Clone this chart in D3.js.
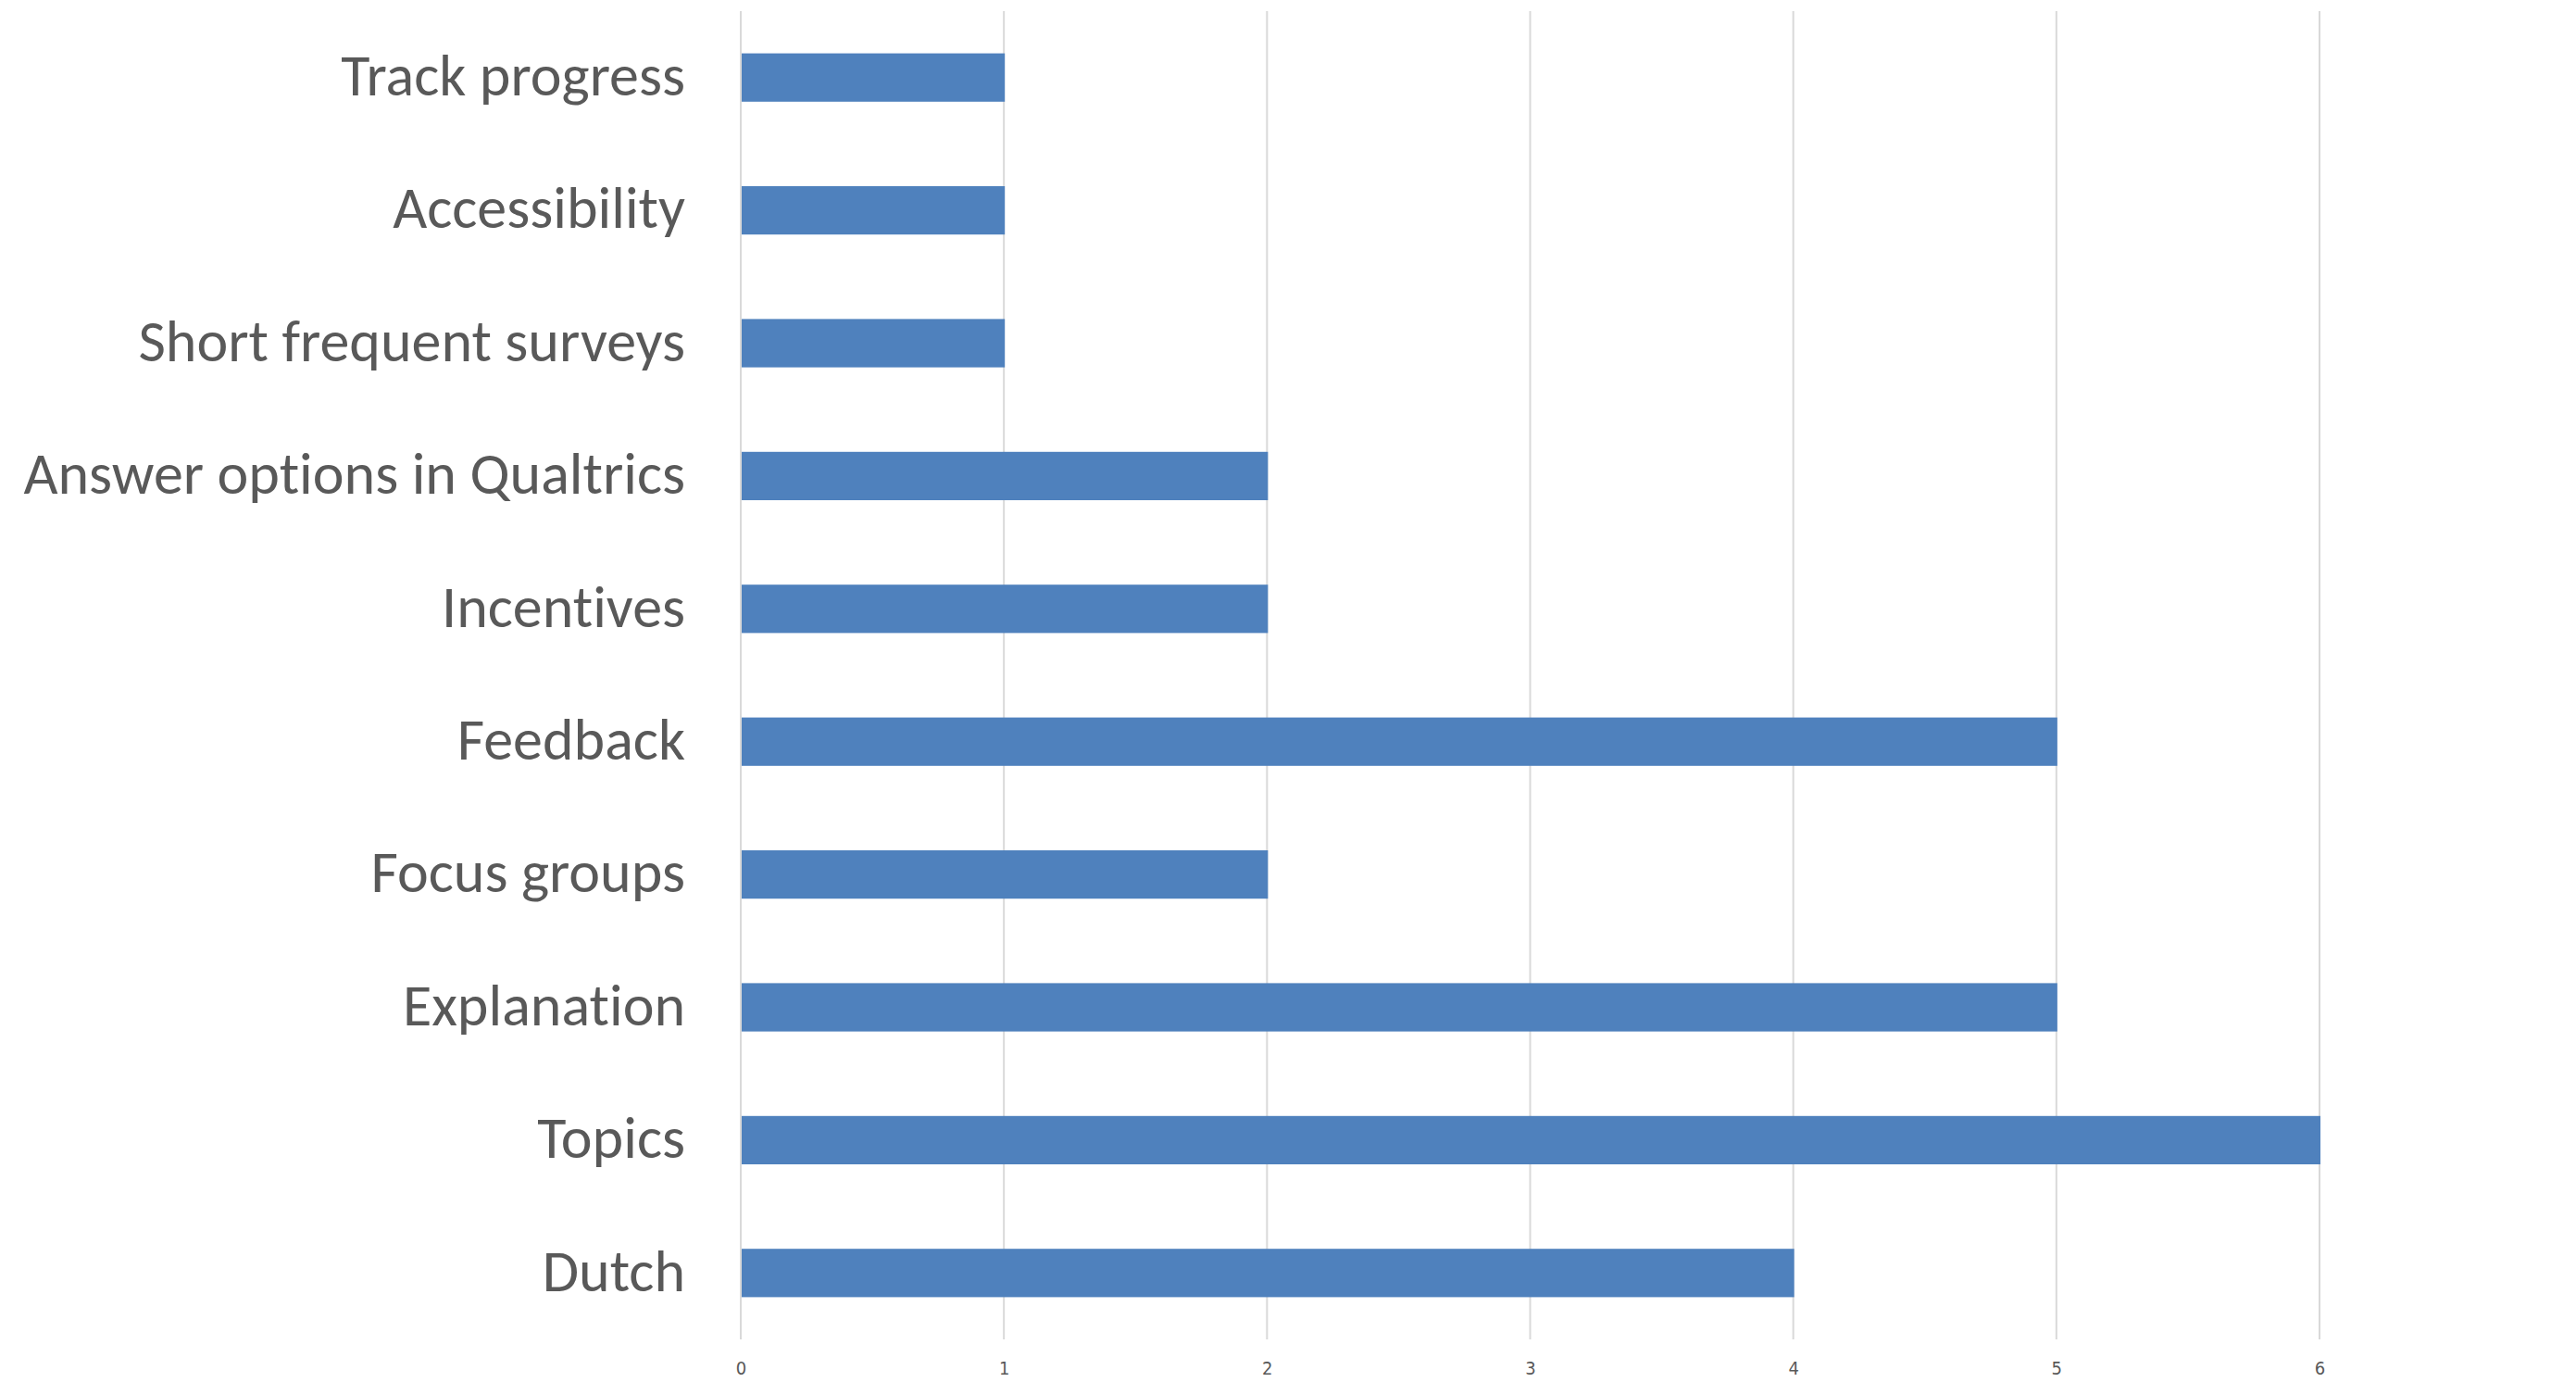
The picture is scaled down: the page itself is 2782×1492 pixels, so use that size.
<!DOCTYPE html>
<html>
<head>
<meta charset="utf-8">
<script src="https://d3js.org/d3.v7.min.js"></script>
<style>
  body { margin: 0; background: #fff; }
  .cat text { font-family: Carlito, Lato, "Open Sans", sans-serif; fill: #595959; font-variant-ligatures: none; }
  .val text { font-family: "Liberation Sans Narrow", "DejaVu Sans Condensed", sans-serif; fill: #595959; }
</style>
</head>
<body>
<svg id="chart" width="2782" height="1492"></svg>
<script>
// categories listed top to bottom
var categories = ["Track progress", "Accessibility", "Short frequent surveys", "Answer options in Qualtrics",
                  "Incentives", "Feedback", "Focus groups", "Explanation", "Topics", "Dutch"];
var counts = [1, 1, 1, 2, 2, 5, 2, 5, 6, 4];
var xTicks = [0, 1, 2, 3, 4, 5, 6];

var svg = d3.select("#chart"),
    margin = {top: 12, left: 800},
    plotW = 1705,
    plotH = 1434;

var x = d3.scaleLinear().domain([0, 6]).range([0, plotW]);
var y = d3.scaleBand().domain(categories).range([0, plotH]).paddingInner(0.636).paddingOuter(0.318);

var g = svg.append("g")
    .attr("transform", "translate(" + margin.left + "," + margin.top + ")");

// vertical gridlines
g.selectAll(".grid")
  .data(xTicks)
  .enter().append("line")
    .attr("class", "grid")
    .attr("x1", function(d) { return x(d); })
    .attr("x2", function(d) { return x(d); })
    .attr("y1", 0)
    .attr("y2", plotH)
    .attr("stroke", "#d9d9d9")
    .attr("stroke-width", 2);

var rows = categories.map(function(c, i) { return {name: c, value: counts[i]}; });

g.selectAll(".bar")
  .data(rows)
  .enter().append("rect")
    .attr("class", "bar")
    .attr("x", x(0) + 1)
    .attr("y", function(d) { return y(d.name); })
    .attr("width", function(d) { return x(d.value) - x(0); })
    .attr("height", y.bandwidth())
    .attr("fill", "#4f81bd");

var yAxis = g.append("g")
    .attr("class", "cat")
    .call(d3.axisLeft(y).tickSize(0).tickPadding(60));
yAxis.select(".domain").remove();
yAxis.selectAll("text").attr("font-size", 64).attr("dy", "0.3em");

var xAxis = g.append("g")
    .attr("class", "val")
    .attr("transform", "translate(0," + plotH + ")")
    .call(d3.axisBottom(x).tickValues(xTicks).tickFormat(d3.format("d")).tickSize(0).tickPadding(24));
xAxis.select(".domain").remove();
xAxis.selectAll("text").attr("font-size", 20);
</script>
</body>
</html>
